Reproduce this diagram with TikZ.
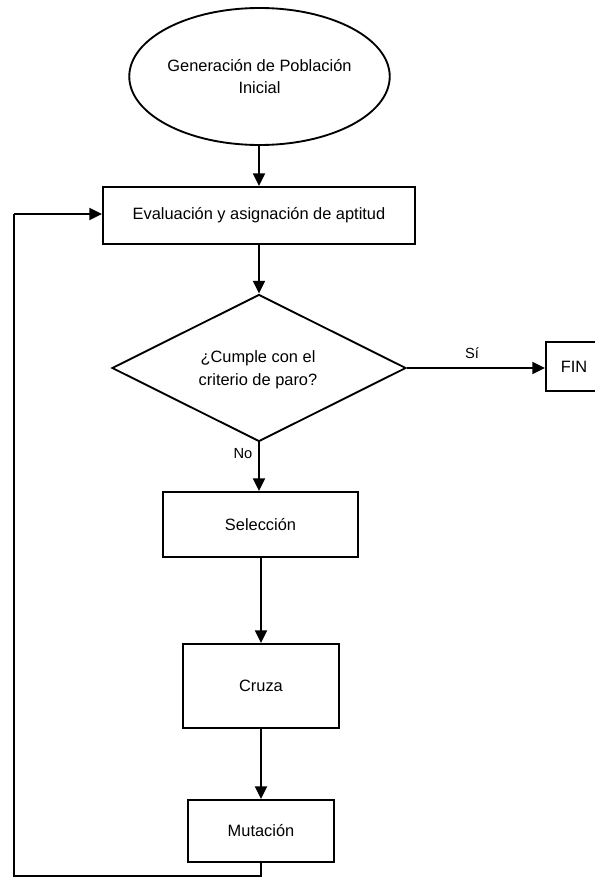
\documentclass[tikz,border=0pt]{standalone}
\usepackage{fontspec}
\setmainfont{Liberation Sans}
\usetikzlibrary{shapes.geometric,arrows.meta,positioning}
\begin{document}
\begin{tikzpicture}[x=0.75pt,y=-0.75pt,
  box/.style={draw,line width=1.4pt,inner sep=0pt,font=\fontsize{12.3}{15}\selectfont,align=center},
  lbl/.style={inner sep=0pt,font=\fontsize{11}{13}\selectfont},
  conn/.style={line width=1.4pt,-{Triangle[length=9.5pt,width=9pt]}},
  plain/.style={line width=1.4pt}]
\useasboundingbox (0,0) rectangle (594,878);
\node[box,ellipse,minimum width=255*0.75pt,minimum height=137*0.75pt] (ell) at (259.5,76.5) {Generación de Población\\[2pt]Inicial};
\node[box,rectangle,minimum width=312*0.75pt,minimum height=57*0.75pt] (eval) at (259,215.5) {Evaluación y asignación de aptitud};
\node[box,diamond,minimum width=294*0.75pt,minimum height=147*0.75pt] (dia) at (259,368) {};
\node[box,draw=none,align=center] (diatxt) at (258,370) {¿Cumple con el\\[2pt]criterio de paro?};
\node[box,rectangle,minimum width=56*0.75pt,minimum height=49*0.75pt] (fin) at (574,366.5) {FIN};
\node[box,rectangle,minimum width=195*0.75pt,minimum height=65*0.75pt] (sel) at (260.5,524.5) {Selección};
\node[box,rectangle,minimum width=156*0.75pt,minimum height=84*0.75pt] (cruza) at (261,686) {Cruza};
\node[box,rectangle,minimum width=146*0.75pt,minimum height=62*0.75pt] (mut) at (261,831) {Mutación};
\coordinate (c1) at (261,876);
\coordinate (c2) at (14,876);
\coordinate (c3) at (14,214);
\draw[conn] (ell.south -| eval.north) -- (eval.north);
\draw[conn] (eval.south -| dia.north) -- (dia.north);
\draw[conn] (dia.east) -- (fin.west |- dia.east);
\node[lbl] (si) at (472,353) {Sí};
\draw[conn] (dia.south) -- (sel.north -| dia.south);
\node[lbl] (no) at (243,454) {No};
\draw[conn] (sel.south -| cruza.north) -- (cruza.north);
\draw[conn] (cruza.south) -- (mut.north);
\draw[plain] (mut.south) -- (c1) -- (c2) -- (c3);
\draw[conn] (c3) -- (eval.west |- c3);
\end{tikzpicture}
\end{document}
